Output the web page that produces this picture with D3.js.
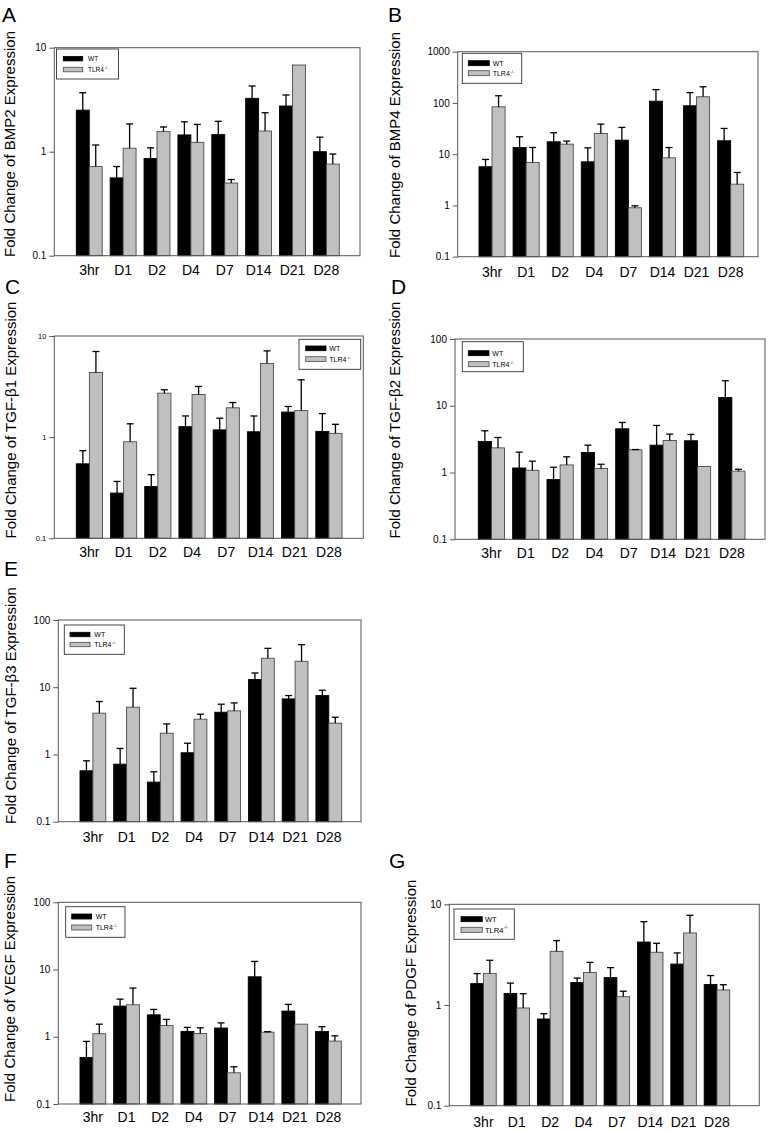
<!DOCTYPE html>
<html>
<head>
<meta charset="utf-8">
<script src="https://cdn.jsdelivr.net/npm/d3@7/dist/d3.min.js"></script>
<style>
  html, body { margin: 0; padding: 0; background: #fff; }
  svg { display: block; font-family: "Liberation Sans", Arial, sans-serif; }
</style>
</head>
<body>
<svg id="chart" width="773" height="1131"></svg>
<script>
// ---------------- DATA ----------------
const categories = ["3hr", "D1", "D2", "D4", "D7", "D14", "D21", "D28"];
const seriesNames = ["WT", "TLR4"];

const ticks10 = [0.1, 1, 10];
const ticks100 = [0.1, 1, 10, 100];
const ticks1000 = [0.1, 1, 10, 100, 1000];

// A: BMP2
const bmp2WT = [2.51, 0.56, 0.86, 1.45, 1.46, 3.26, 2.75, 1.0];
const bmp2WTerr = [1.18, 0.16, 0.23, 0.49, 0.50, 1.02, 0.76, 0.38];
const bmp2KO = [0.72, 1.08, 1.56, 1.23, 0.50, 1.58, 6.81, 0.76];
const bmp2KOerr = [0.44, 0.77, 0.17, 0.60, 0.04, 0.79, 0, 0.19];

// B: BMP4
const bmp4WT = [5.7, 13.5, 17.5, 7.1, 18.8, 108, 88, 18.3];
const bmp4WTerr = [2.2, 8.4, 8.7, 6.2, 14.5, 74, 71, 13.5];
const bmp4KO = [84, 6.9, 15.7, 25.4, 0.9, 8.5, 132, 2.6];
const bmp4KOerr = [54, 6.6, 2.3, 13.2, 0.085, 5.0, 75, 1.8];

// C: TGF-b1
const tgfb1WT = [0.545, 0.28, 0.325, 1.27, 1.18, 1.13, 1.77, 1.14];
const tgfb1WTerr = [0.19, 0.085, 0.10, 0.35, 0.36, 0.49, 0.24, 0.57];
const tgfb1KO = [4.36, 0.90, 2.72, 2.64, 1.95, 5.35, 1.83, 1.09];
const tgfb1KOerr = [2.67, 0.455, 0.22, 0.53, 0.25, 1.78, 1.86, 0.25];

// D: TGF-b2
const tgfb2WT = [2.92, 1.17, 0.785, 2.0, 4.52, 2.57, 2.99, 13.3];
const tgfb2WTerr = [1.3, 0.85, 0.415, 0.57, 1.1, 2.5, 0.73, 10.4];
const tgfb2KO = [2.34, 1.08, 1.30, 1.15, 2.19, 3.02, 1.23, 1.05];
const tgfb2KOerr = [1.01, 0.40, 0.42, 0.18, 0.02, 0.74, 0, 0.07];

// E: TGF-b3
const tgfb3WT = [0.572, 0.718, 0.388, 1.06, 4.25, 13.0, 6.71, 7.52];
const tgfb3WTerr = [0.233, 0.51, 0.165, 0.41, 1.34, 3.3, 0.81, 1.5];
const tgfb3KO = [4.11, 5.05, 2.07, 3.35, 4.45, 27, 24.3, 2.92];
const tgfb3KOerr = [2.02, 4.6, 0.78, 0.62, 1.4, 10.9, 18.7, 0.66];

// F: VEGF
const vegfWT = [0.493, 2.86, 2.12, 1.2, 1.35, 7.8, 2.41, 1.2];
const vegfWTerr = [0.36, 0.77, 0.43, 0.18, 0.26, 5.4, 0.62, 0.21];
const vegfKO = [1.11, 2.99, 1.47, 1.12, 0.291, 1.17, 1.54, 0.862];
const vegfKOerr = [0.43, 2.31, 0.34, 0.24, 0.067, 0.02, 0, 0.17];

// G: PDGF
const pdgfWT = [1.63, 1.30, 0.726, 1.67, 1.87, 4.22, 2.55, 1.60];
const pdgfWTerr = [0.42, 0.35, 0.094, 0.18, 0.48, 2.51, 0.74, 0.36];
const pdgfKO = [2.06, 0.934, 3.41, 2.10, 1.21, 3.34, 5.19, 1.41];
const pdgfKOerr = [0.72, 0.36, 0.95, 0.55, 0.16, 0.76, 2.59, 0.18];

const panels = [
  { id: "A", title: "Fold Change of BMP2 Expression", wt: bmp2WT, wtErr: bmp2WTerr, ko: bmp2KO, koErr: bmp2KOerr, ticks: ticks10 },
  { id: "B", title: "Fold Change of BMP4 Expression", wt: bmp4WT, wtErr: bmp4WTerr, ko: bmp4KO, koErr: bmp4KOerr, ticks: ticks1000 },
  { id: "C", title: "Fold Change of TGF-β1 Expression", wt: tgfb1WT, wtErr: tgfb1WTerr, ko: tgfb1KO, koErr: tgfb1KOerr, ticks: ticks10 },
  { id: "D", title: "Fold Change of TGF-β2 Expression", wt: tgfb2WT, wtErr: tgfb2WTerr, ko: tgfb2KO, koErr: tgfb2KOerr, ticks: ticks100 },
  { id: "E", title: "Fold Change of TGF-β3 Expression", wt: tgfb3WT, wtErr: tgfb3WTerr, ko: tgfb3KO, koErr: tgfb3KOerr, ticks: ticks100 },
  { id: "F", title: "Fold Change of VEGF Expression", wt: vegfWT, wtErr: vegfWTerr, ko: vegfKO, koErr: vegfKOerr, ticks: ticks100 },
  { id: "G", title: "Fold Change of PDGF Expression", wt: pdgfWT, wtErr: pdgfWTerr, ko: pdgfKO, koErr: pdgfKOerr, ticks: ticks10 }
];

// ---------------- LAYOUT ----------------
const layout = {
  A: { letter: [2, 22], titleX: 15, titleY: 144, frame: [54.3, 47.7, 360, 255.7], bars: [76.3, 339.3], labelY: 275, tickFs: 10,
       legend: { x: 56.5, y: 49, w: 62, h: 30, sx: 63.3, sw: 19.4, sh: 4.5, y1: 56.4, y2: 67.3, tx: 88, fs: 6.5 } },
  B: { letter: [388, 22], titleX: 400, titleY: 145, frame: [457.7, 51.7, 758, 256.7], bars: [479, 743.7], labelY: 276.7, tickFs: 10,
       legend: { x: 462.3, y: 53.3, w: 59.4, h: 30, sx: 468.3, sw: 21, sh: 5, y1: 60.7, y2: 70.7, tx: 492.7, fs: 7 } },
  C: { letter: [5, 294], titleX: 16, titleY: 420, frame: [54.3, 336, 363.3, 538.3], bars: [76.3, 342], labelY: 556.7, tickFs: 7.5,
       legend: { x: 299, y: 339.3, w: 61.7, h: 30, sx: 305.7, sw: 20.3, sh: 4.7, y1: 346, y2: 356.7, tx: 329.3, fs: 7 } },
  D: { letter: [391, 294], titleX: 400, titleY: 420, frame: [455, 339, 765, 539.3], bars: [478.3, 745], labelY: 558.3, tickFs: 10,
       legend: { x: 462.3, y: 341.7, w: 61, h: 30, sx: 468.3, sw: 20.7, sh: 5, y1: 350.7, y2: 361.7, tx: 492.3, fs: 7 } },
  E: { letter: [4, 576], titleX: 16, titleY: 705.5, frame: [58.3, 620, 361, 821.7], bars: [80, 341.7], labelY: 841.7, tickFs: 10,
       legend: { x: 64.3, y: 625, w: 60, h: 29.3, sx: 70, sw: 20, sh: 4.4, y1: 632.3, y2: 642.3, tx: 94.3, fs: 7 } },
  F: { letter: [4, 868], titleX: 15, titleY: 989, frame: [58.3, 902.3, 361, 1104], bars: [80, 341.3], labelY: 1121.7, tickFs: 10,
       legend: { x: 65.7, y: 906.7, w: 59.3, h: 30.6, sx: 71.7, sw: 20, sh: 5, y1: 914, y2: 925, tx: 95.7, fs: 7 } },
  G: { letter: [389, 868], titleX: 416, titleY: 993, frame: [449.3, 904.3, 759.3, 1105.7], bars: [470.7, 729.7], labelY: 1126.7, tickFs: 10,
       legend: { x: 454, y: 909, w: 60.3, h: 30.3, sx: 461, sw: 21.3, sh: 5, y1: 916.7, y2: 927.3, tx: 485, fs: 7.5 } }
};

const colors = { WT: "#000000", TLR4: "#c0c0c0" };
const strokes = { WT: "#000000", TLR4: "#4a4a4a" };
const frameColor = "#555555";

const svg = d3.select("#chart");

panels.forEach(p => {
  const L = layout[p.id];
  const [fl, ft, fr, fb] = L.frame;
  const g = svg.append("g");

  const x = d3.scaleBand().domain(categories).range(L.bars).paddingInner(0.235).paddingOuter(0);
  const xs = d3.scaleBand().domain(seriesNames).range([0, x.bandwidth()]).padding(0);
  const y = d3.scaleLog().domain([0.1, p.ticks[p.ticks.length - 1]]).range([fb, ft]);

  const rows = categories.map((c, i) => ({
    c,
    vals: [
      { s: "WT", v: p.wt[i], e: p.wtErr[i] },
      { s: "TLR4", v: p.ko[i], e: p.koErr[i] }
    ]
  }));

  // bars
  const grp = g.selectAll(".grp").data(rows).enter().append("g")
    .attr("transform", d => `translate(${x(d.c)},0)`);
  grp.selectAll("rect").data(d => d.vals).enter().append("rect")
    .attr("x", d => xs(d.s))
    .attr("width", xs.bandwidth())
    .attr("y", d => y(d.v))
    .attr("height", d => fb - y(d.v))
    .attr("fill", d => colors[d.s])
    .attr("stroke", d => strokes[d.s])
    .attr("stroke-width", 0.9);

  // error bars (upper only)
  const eb = grp.selectAll(".eb").data(d => d.vals.filter(v => v.e > 0)).enter().append("g");
  eb.append("line")
    .attr("x1", d => xs(d.s) + xs.bandwidth() / 2)
    .attr("x2", d => xs(d.s) + xs.bandwidth() / 2)
    .attr("y1", d => y(d.v))
    .attr("y2", d => y(d.v + d.e))
    .attr("stroke", "#000").attr("stroke-width", 1.3);
  eb.append("line")
    .attr("x1", d => xs(d.s) + xs.bandwidth() / 2 - 3.5)
    .attr("x2", d => xs(d.s) + xs.bandwidth() / 2 + 3.5)
    .attr("y1", d => y(d.v + d.e))
    .attr("y2", d => y(d.v + d.e))
    .attr("stroke", "#000").attr("stroke-width", 1.3);

  // frame
  g.append("rect")
    .attr("x", fl).attr("y", ft).attr("width", fr - fl).attr("height", fb - ft)
    .attr("fill", "none").attr("stroke", frameColor).attr("stroke-width", 1);

  // y axis
  const ya = g.append("g").attr("transform", `translate(${fl},0)`)
    .call(d3.axisLeft(y).tickValues(p.ticks).tickSize(5).tickPadding(3).tickFormat(d => String(d)));
  ya.select(".domain").remove();
  ya.selectAll(".tick line").attr("stroke", frameColor);
  ya.selectAll(".tick text").attr("font-size", L.tickFs).attr("fill", "#000")
    .attr("font-family", "Liberation Sans, Arial, sans-serif");

  // x labels
  g.selectAll(".xl").data(categories).enter().append("text")
    .attr("x", d => x(d) + x.bandwidth() / 2)
    .attr("y", L.labelY)
    .attr("text-anchor", "middle")
    .attr("font-size", 14)
    .attr("fill", "#000")
    .text(d => d);

  // y title
  g.append("text")
    .attr("transform", `translate(${L.titleX},${L.titleY}) rotate(-90)`)
    .attr("text-anchor", "middle")
    .attr("font-size", 15)
    .attr("fill", "#000")
    .text(p.title);

  // panel letter
  g.append("text")
    .attr("x", L.letter[0]).attr("y", L.letter[1])
    .attr("font-size", 21)
    .attr("fill", "#000")
    .text(p.id);

  // legend
  const lg = L.legend;
  const leg = g.append("g");
  leg.append("rect")
    .attr("x", lg.x).attr("y", lg.y).attr("width", lg.w).attr("height", lg.h)
    .attr("fill", "#fff").attr("stroke", "#333").attr("stroke-width", 0.9);
  const items = seriesNames.map((s, i) => ({ s, yy: i === 0 ? lg.y1 : lg.y2 }));
  leg.selectAll(".sw").data(items).enter().append("rect")
    .attr("x", lg.sx).attr("y", d => d.yy).attr("width", lg.sw).attr("height", lg.sh)
    .attr("fill", d => colors[d.s]).attr("stroke", d => strokes[d.s]).attr("stroke-width", 0.8);
  const lt = leg.selectAll(".lt").data(items).enter().append("text")
    .attr("x", lg.tx).attr("y", d => d.yy + lg.sh + 0.3)
    .attr("font-size", lg.fs).attr("fill", "#000");
  lt.append("tspan").text(d => d.s);
  lt.filter(d => d.s === "TLR4").append("tspan")
    .attr("font-size", lg.fs * 0.6).attr("dy", -lg.fs * 0.45).attr("dx", 0.5)
    .text("-/-");
});
</script>
</body>
</html>
